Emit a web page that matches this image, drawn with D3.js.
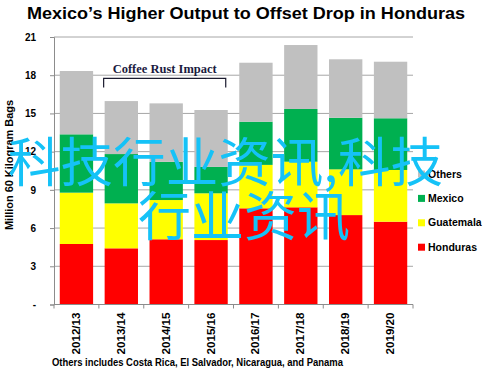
<!DOCTYPE html>
<html><head><meta charset="utf-8">
<script src="https://cdn.jsdelivr.net/npm/d3@7"></script>
<style>body{margin:0;background:#fff}svg{display:block}</style>
</head><body>
<script>
const seasons = ["2012/13","2013/14","2014/15","2015/16","2016/17","2017/18","2018/19","2019/20"];
const honduras  = [4.75, 4.41, 5.12, 5.06, 7.55, 7.63, 7.02, 6.50];
const guatemala = [4.03, 3.53, 3.08, 3.67, 3.41, 3.58, 3.59, 4.06];
const mexico    = [4.58, 3.87, 3.00, 2.07, 3.39, 4.14, 4.05, 4.06];
const others    = [4.97, 4.16, 4.59, 4.47, 4.63, 5.02, 4.59, 4.44];
const seriesNames = ["Honduras","Guatemala","Mexico","Others"];
const seriesColors = ["#FF0000","#FFFF00","#00B050","#C0C0C0"];
const yTicks = [0,3,6,9,12,15,18,21];
const titleText = "Mexico\u2019s Higher Output to Offset Drop in Honduras";
const yTitle = "Million 60 Kilogram Bags";
const footnote = "Others includes Costa Rica, El Salvador, Nicaragua, and Panama";
const annotation = "Coffee Rust Impact";
const annotationSeasons = ["2013/14","2015/16"];
const watermark = ["科技行业资讯,科技","行业资讯"];

const W = 491, H = 372;
const svg = d3.select("body").append("svg").attr("width", W).attr("height", H);
const font = "'Liberation Sans', Arial, sans-serif";

const x = d3.scaleBand().domain(seasons).range([54, 413]).paddingInner(0.257).paddingOuter(0.1285);
const y = d3.scaleLinear().domain([0, 21]).range([304.5, 37]);

function fit(sel, len){ sel.attr("textLength", len).attr("lengthAdjust","spacingAndGlyphs"); }
svg.append("text").attr("x", 246).attr("y", 18.5).attr("text-anchor","middle")
  .attr("font-family", font).attr("font-weight","bold").attr("font-size", 17).attr("fill","#000")
  .text(titleText).call(fit, 438);

// gridlines
svg.append("g").selectAll("line").data(yTicks.filter(d=>d>0)).join("line")
  .attr("x1", x.range()[0]).attr("x2", x.range()[1])
  .attr("y1", d=>y(d)).attr("y2", d=>y(d))
  .attr("stroke","#A6A6A6").attr("stroke-width",1);

// stacked bars
const table = seasons.map((s,i)=>({season:s, Honduras:honduras[i], Guatemala:guatemala[i], Mexico:mexico[i], Others:others[i]}));
const stack = d3.stack().keys(seriesNames)(table);
svg.append("g").selectAll("g").data(stack).join("g")
  .attr("fill", (d,i)=>seriesColors[i])
  .selectAll("rect").data(d=>d).join("rect")
  .attr("x", d=>x(d.data.season)).attr("width", x.bandwidth())
  .attr("y", d=>y(d[1])).attr("height", d=>y(d[0])-y(d[1]));

// y axis
const ya = svg.append("g").attr("transform", `translate(${x.range()[0]},0)`)
  .call(d3.axisLeft(y).tickValues(yTicks).tickSize(4).tickPadding(14)
        .tickFormat(d=> d===0 ? "-" : d));
ya.select(".domain").attr("stroke","#8C8C8C");
ya.selectAll(".tick line").attr("stroke","#8C8C8C");
ya.selectAll("text").attr("font-family", font).attr("font-weight","bold").attr("font-size",10).attr("fill","#000");

// x axis
const xa = svg.append("g").attr("transform", `translate(0,${y(0)})`)
  .call(d3.axisBottom(x).tickSize(0).tickPadding(0));
xa.select(".domain").remove();
xa.append("line").attr("x1", x.range()[0]).attr("x2", x.range()[1]).attr("stroke","#8C8C8C");
xa.selectAll(".tick text")
  .attr("transform","rotate(-90)").attr("text-anchor","end")
  .attr("x", -8).attr("y", 0).attr("dy","0.35em")
  .attr("font-family", font).attr("font-weight","bold").attr("font-size",10).attr("fill","#000");
xa.selectAll(".tick text").call(fit, 42);
xa.append("g").selectAll("line").data(d3.range(seasons.length+1)).join("line")
  .attr("x1", i=>x.range()[0]+i*x.step()).attr("x2", i=>x.range()[0]+i*x.step())
  .attr("y1",0).attr("y2",4).attr("stroke","#8C8C8C");

// y title
svg.append("text").attr("transform", `translate(13,165) rotate(-90)`).attr("text-anchor","middle")
  .attr("font-family", font).attr("font-weight","bold").attr("font-size",10.5).attr("fill","#000")
  .text(yTitle).call(fit, 130);

// annotation
const a0 = x(annotationSeasons[0]) - 1, a1 = x(annotationSeasons[1]) + x.bandwidth() - 2;
svg.append("path").attr("d", `M${a0},${87.5}V${78.3}H${a1}V${87.5}`)
  .attr("fill","none").attr("stroke","#1a1a2e").attr("stroke-width",1.2);
svg.append("text").attr("x",(a0+a1)/2).attr("y",72.5).attr("text-anchor","middle")
  .attr("font-family","'Liberation Serif', 'Times New Roman', serif").attr("font-weight","bold")
  .attr("font-size",12).attr("fill","#1a1a40").text(annotation).call(fit, 104);

// legend
const legendOrder = [3,2,1,0];
const lg = svg.append("g").selectAll("g").data(legendOrder).join("g")
  .attr("transform",(d,i)=>`translate(418,${174 + i*24.4})`);
lg.append("rect").attr("x",0).attr("y",-3.5).attr("width",7).attr("height",7).attr("fill",d=>seriesColors[d]);
lg.append("text").attr("x",10).attr("y",0).attr("dy","0.35em")
  .attr("font-family", font).attr("font-weight","bold").attr("font-size",10.5).attr("fill","#000")
  .text(d=>seriesNames[d]);

// footnote
svg.append("text").attr("x",52).attr("y",365.5)
  .attr("font-family", font).attr("font-weight","bold").attr("font-size",10).attr("fill","#000")
  .text(footnote).call(fit, 291);

// watermark
const wm = svg.append("g").attr("font-family","'Noto Sans CJK SC', sans-serif").attr("font-size",53).attr("fill","#15C2F7");
wm.append("text").attr("x",8).attr("y",182).text(watermark[0]).call(fit, 435);
wm.append("text").attr("x",138).attr("y",236).text(watermark[1]);
</script>
</body></html>
